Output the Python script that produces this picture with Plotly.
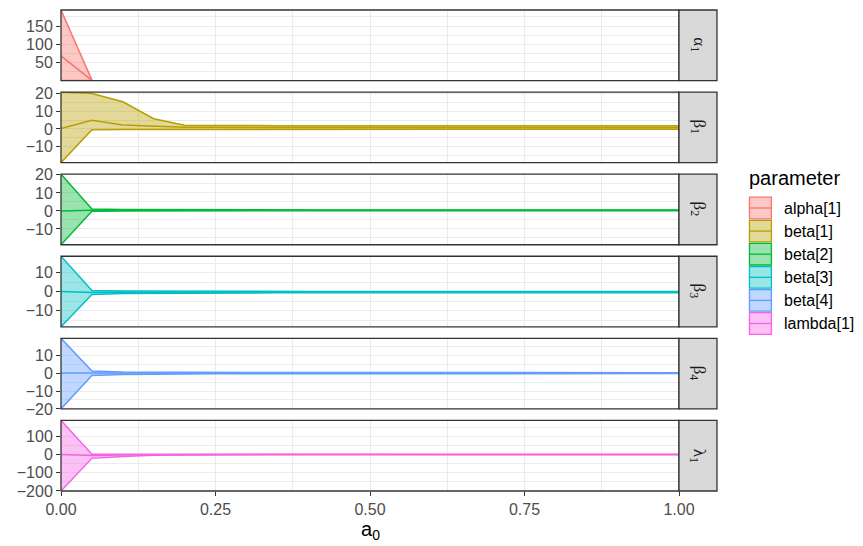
import plotly.graph_objects as go
from plotly.subplots import make_subplots

# ---------------- data ----------------
a0 = [0.00, 0.05, 0.10, 0.15, 0.20, 0.25, 0.30, 0.35, 0.40, 0.45, 0.50,
      0.55, 0.60, 0.65, 0.70, 0.75, 0.80, 0.85, 0.90, 0.95, 1.00]

parameters = ["alpha[1]", "beta[1]", "beta[2]", "beta[3]", "beta[4]", "lambda[1]"]
strip_labels = ["α<sub>1</sub>", "β<sub>1</sub>", "β<sub>2</sub>", "β<sub>3</sub>",
                "β<sub>4</sub>", "λ<sub>1</sub>"]

N = None
alpha1_lo = [0.4, 0.6, N, N, N, N, N, N, N, N, N,
             N, N, N, N, N, N, N, N, N, N]
alpha1_mid = [68, 1.0, N, N, N, N, N, N, N, N, N,
              N, N, N, N, N, N, N, N, N, N]
alpha1_hi = [194, 1.6, N, N, N, N, N, N, N, N, N,
             N, N, N, N, N, N, N, N, N, N]

beta1_lo = [-19.2, -0.5, -0.3, -0.25, -0.2, -0.2, -0.2, -0.2, -0.2, -0.2, -0.2,
            -0.2, -0.2, -0.2, -0.2, -0.2, -0.2, -0.2, -0.2, -0.2, -0.2]
beta1_mid = [0.2, 4.9, 2.2, 1.4, 1.0, 0.9, 0.88, 0.86, 0.85, 0.85, 0.84,
             0.84, 0.84, 0.83, 0.83, 0.83, 0.83, 0.83, 0.82, 0.82, 0.82]
beta1_hi = [21.0, 20.2, 15.5, 5.8, 2.1, 1.9, 1.85, 1.85, 1.8, 1.8, 1.8,
            1.8, 1.8, 1.8, 1.8, 1.8, 1.8, 1.8, 1.8, 1.8, 1.8]

beta2_lo = [-18.8, -0.2, 0.0, 0.05, 0.08, 0.1, 0.1, 0.11, 0.11, 0.12, 0.12,
            0.12, 0.12, 0.12, 0.12, 0.12, 0.12, 0.12, 0.12, 0.12, 0.12]
beta2_mid = [0.0, 0.4, 0.35, 0.33, 0.32, 0.31, 0.31, 0.3, 0.3, 0.3, 0.3,
             0.3, 0.3, 0.3, 0.3, 0.3, 0.3, 0.3, 0.3, 0.3, 0.3]
beta2_hi = [20.4, 1.0, 0.75, 0.65, 0.6, 0.55, 0.54, 0.53, 0.52, 0.52, 0.51,
            0.51, 0.5, 0.5, 0.5, 0.5, 0.5, 0.5, 0.5, 0.5, 0.5]

beta3_lo = [-18.6, -1.6, -1.0, -0.85, -0.78, -0.74, -0.72, -0.7, -0.69, -0.68, -0.67,
            -0.67, -0.66, -0.66, -0.66, -0.65, -0.65, -0.65, -0.65, -0.65, -0.65]
beta3_mid = [0.0, -0.5, -0.42, -0.38, -0.36, -0.35, -0.34, -0.34, -0.34, -0.33, -0.33,
             -0.33, -0.33, -0.33, -0.33, -0.33, -0.33, -0.33, -0.33, -0.33, -0.33]
beta3_hi = [18.6, 0.5, 0.25, 0.15, 0.1, 0.06, 0.05, 0.04, 0.03, 0.02, 0.02,
            0.01, 0.01, 0.01, 0.0, 0.0, 0.0, 0.0, 0.0, 0.0, 0.0]

beta4_lo = [-20.0, -1.4, -0.75, -0.55, -0.45, -0.4, -0.37, -0.35, -0.34, -0.33, -0.32,
            -0.32, -0.31, -0.31, -0.31, -0.3, -0.3, -0.3, -0.3, -0.3, -0.3]
beta4_mid = [0.0, -0.1, -0.05, -0.03, -0.02, -0.01, 0.0, 0.0, 0.0, 0.0, 0.0,
             0.0, 0.0, 0.0, 0.0, 0.0, 0.0, 0.0, 0.0, 0.0, 0.0]
beta4_hi = [19.4, 1.1, 0.6, 0.45, 0.38, 0.33, 0.3, 0.28, 0.27, 0.26, 0.26,
            0.25, 0.25, 0.25, 0.25, 0.25, 0.25, 0.25, 0.25, 0.25, 0.25]

lambda1_lo = [-200, -21, -11, -4.5, -2.2, -1.3, -0.9, -0.7, -0.6, -0.5, -0.5,
              -0.5, -0.5, -0.5, -0.5, -0.5, -0.5, -0.5, -0.5, -0.5, -0.5]
lambda1_mid = [0, -6, -3, -1.5, -0.8, -0.5, -0.3, -0.2, -0.1, 0.0, 0.0,
               0.0, 0.0, 0.0, 0.0, 0.0, 0.0, 0.0, 0.0, 0.0, 0.0]
lambda1_hi = [187, 2.0, 1.5, 1.0, 0.9, 0.8, 0.7, 0.7, 0.6, 0.6, 0.6,
              0.6, 0.6, 0.6, 0.6, 0.6, 0.6, 0.6, 0.6, 0.6, 0.6]

lows = [alpha1_lo, beta1_lo, beta2_lo, beta3_lo, beta4_lo, lambda1_lo]
mids = [alpha1_mid, beta1_mid, beta2_mid, beta3_mid, beta4_mid, lambda1_mid]
highs = [alpha1_hi, beta1_hi, beta2_hi, beta3_hi, beta4_hi, lambda1_hi]

y_ticks = [[50, 100, 150], [-10, 0, 10, 20], [-10, 0, 10, 20],
           [-10, 0, 10], [-20, -10, 0, 10], [-200, -100, 0, 100]]
y_minor = [25, 5, 5, 5, 5, 50]

x_ticks = [0, 0.25, 0.5, 0.75, 1.0]
x_ticktext = ["0.00", "0.25", "0.50", "0.75", "1.00"]

# ---------------- styling ----------------
colors = ["#F8766D", "#B79F00", "#00BA38", "#00BFC4", "#619CFF", "#F564E3"]


def rgba(hexc, a):
    h = hexc.lstrip("#")
    return "rgba(%d,%d,%d,%.2f)" % (int(h[0:2], 16), int(h[2:4], 16), int(h[4:6], 16), a)


W, H = 863, 546
ML, MR, MT, MB = 60.5, 863 - 679, 10, 55
PW = W - ML - MR
PH = H - MT - MB


def px_x(px):
    return (px - ML) / PW


def px_y(py):
    return 1 - (py - MT) / PH


fig = make_subplots(rows=6, cols=1, shared_xaxes=True, vertical_spacing=11.5 / PH)

FONT = "Liberation Sans, Arial, sans-serif"
GRID = "#EBEBEB"
DARK = "#333333"
LW = 1.5

for i in range(6):
    r = i + 1
    c = colors[i]
    fig.add_trace(go.Scatter(x=a0, y=lows[i], mode="lines",
                             line=dict(color=c, width=LW), showlegend=False,
                             hoverinfo="skip"), row=r, col=1)
    fig.add_trace(go.Scatter(x=a0, y=highs[i], mode="lines", fill="tonexty",
                             fillcolor=rgba(c, 0.4),
                             line=dict(color=c, width=LW), showlegend=False,
                             hoverinfo="skip"), row=r, col=1)
    fig.add_trace(go.Scatter(x=a0, y=mids[i], mode="lines",
                             line=dict(color=c, width=LW), name=parameters[i],
                             showlegend=False), row=r, col=1)

    ymin = min(v for v in lows[i] if v is not None)
    ymax = max(v for v in highs[i] if v is not None)
    fig.update_yaxes(row=r, col=1, range=[ymin, ymax], tickmode="array",
                     tickvals=y_ticks[i], ticks="outside", ticklen=4,
                     tickcolor=DARK, tickwidth=1.3, automargin=False,
                     tickfont=dict(family=FONT, size=16, color="#4D4D4D"),
                     showgrid=True, gridcolor=GRID, gridwidth=1.3, zeroline=False,
                     showline=False,
                     minor=dict(tickmode="linear", tick0=0, dtick=y_minor[i],
                                showgrid=True, gridcolor=GRID, gridwidth=0.7,
                                ticks=""))
    show_lbl = (r == 6)
    fig.update_xaxes(row=r, col=1, range=[0, 1], tickmode="array",
                     tickvals=x_ticks, ticktext=x_ticktext,
                     showticklabels=show_lbl, automargin=False,
                     ticks="outside" if show_lbl else "", ticklen=4,
                     tickcolor=DARK, tickwidth=1.3,
                     tickfont=dict(family=FONT, size=16, color="#4D4D4D"),
                     showgrid=True, gridcolor=GRID, gridwidth=1.3, zeroline=False,
                     showline=False,
                     minor=dict(tickmode="linear", tick0=0, dtick=0.125,
                                showgrid=True, gridcolor=GRID, gridwidth=0.7,
                                ticks=""))

    yref = "y domain" if r == 1 else "y%d domain" % r
    xref = "x domain" if r == 1 else "x%d domain" % r
    # panel border (drawn above data)
    fig.add_shape(type="rect", xref=xref, yref=yref, x0=0, x1=1, y0=0, y1=1,
                  line=dict(color=DARK, width=1.3), fillcolor="rgba(0,0,0,0)",
                  layer="above")
    # facet strip on the right
    fig.add_shape(type="rect", xref="paper", yref=yref,
                  x0=1.0, x1=px_x(717), y0=0, y1=1,
                  fillcolor="#D9D9D9", line=dict(color=DARK, width=1.3))
    fig.add_annotation(xref="paper", yref=yref, x=(1.0 + px_x(717)) / 2, y=0.5,
                       text=strip_labels[i], textangle=90, showarrow=False,
                       font=dict(family="Liberation Serif, DejaVu Serif, serif",
                                 size=17, color="#1A1A1A"),
                       xanchor="center", yanchor="middle")

# manual legend (ggplot style keys)
fig.add_annotation(xref="paper", yref="paper", x=px_x(747), y=px_y(178),
                   text="parameter", showarrow=False, xanchor="left",
                   yanchor="middle",
                   font=dict(family=FONT, size=20, color="#000000"))
key_w = 22
for i, name in enumerate(parameters):
    cy = 208 + i * 23.1
    c = colors[i]
    fig.add_shape(type="rect", xref="paper", yref="paper",
                  x0=px_x(749.5), x1=px_x(749.5 + key_w),
                  y0=px_y(cy - 10.8), y1=px_y(cy + 10.8),
                  fillcolor=rgba(c, 0.4), line=dict(color=c, width=1.3))
    fig.add_shape(type="line", xref="paper", yref="paper",
                  x0=px_x(750), x1=px_x(749 + key_w),
                  y0=px_y(cy), y1=px_y(cy),
                  line=dict(color=c, width=1.3))
    fig.add_annotation(xref="paper", yref="paper", x=px_x(782), y=px_y(cy),
                       text=name, showarrow=False, xanchor="left",
                       yanchor="middle",
                       font=dict(family=FONT, size=16, color="#000000"))

# x-axis title
fig.add_annotation(xref="paper", yref="paper", x=0.5, y=px_y(530),
                   text="a<sub>0</sub>", showarrow=False, xanchor="center",
                   yanchor="middle",
                   font=dict(family=FONT, size=20, color="#000000"))

fig.update_layout(width=W, height=H,
                  margin=dict(l=ML, r=MR, t=MT, b=MB, autoexpand=False),
                  paper_bgcolor="white", plot_bgcolor="white",
                  showlegend=False,
                  font=dict(family=FONT))

fig.write_html("out.html")
